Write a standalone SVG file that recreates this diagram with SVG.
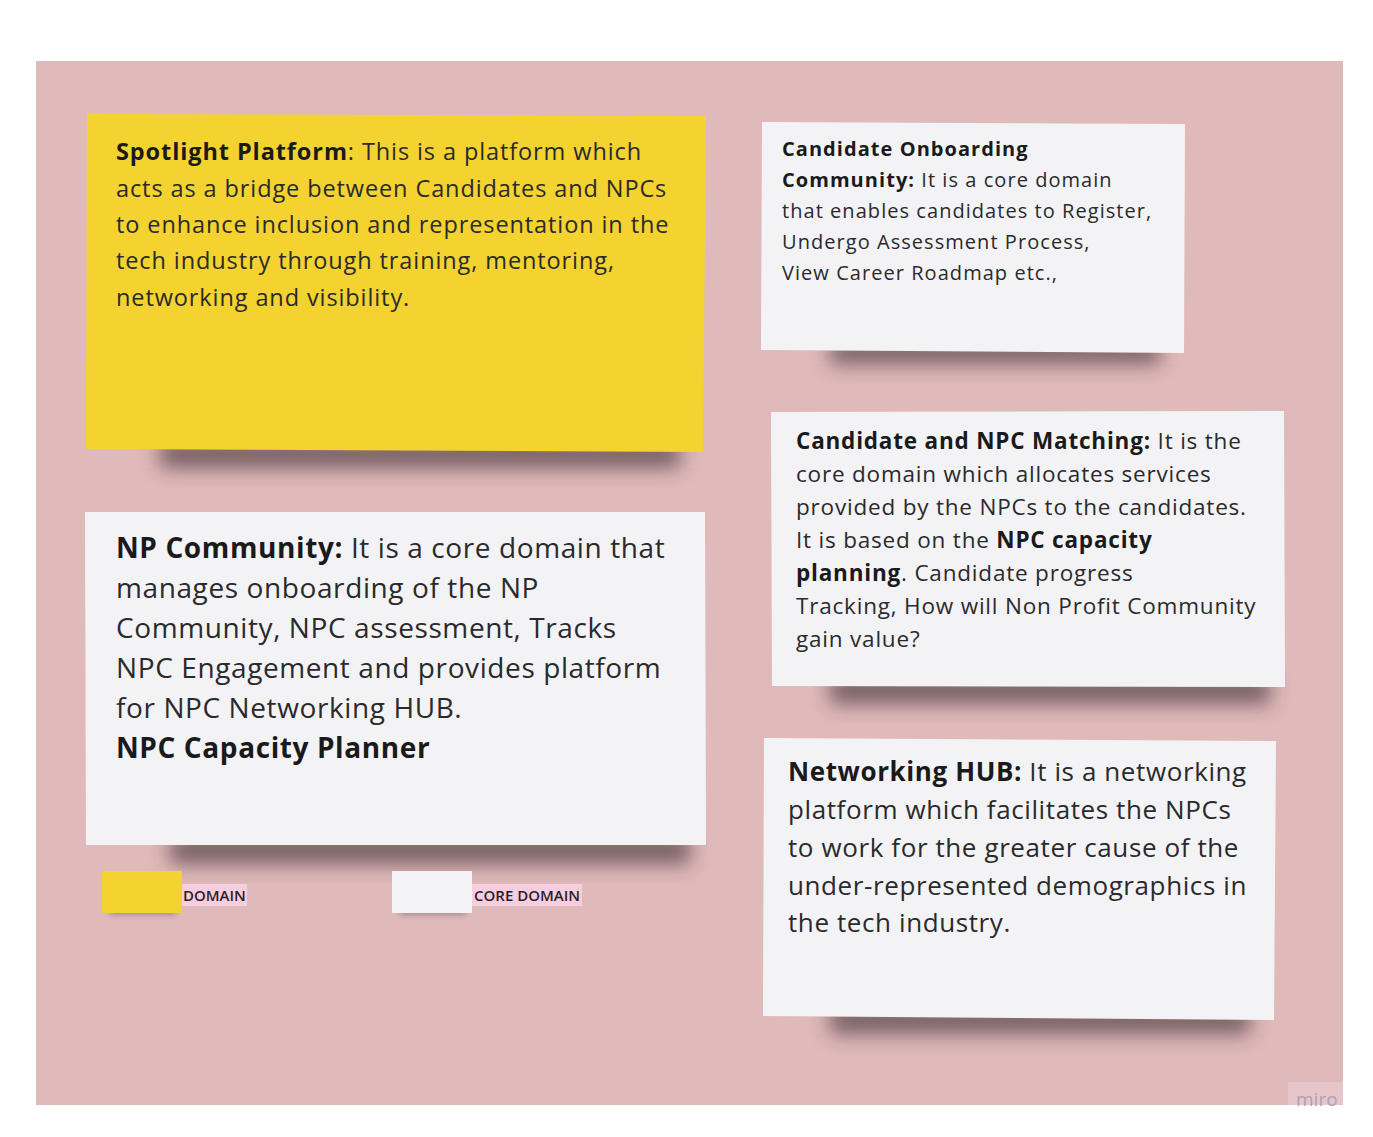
<svg xmlns="http://www.w3.org/2000/svg" width="1373" height="1137" viewBox="0 0 1373 1137">
<defs>
<style>
text{font-family:"Open Sans","Noto Sans","Liberation Sans",sans-serif;fill:#2a2a2c}
.b{font-weight:700;fill:#1a1a1c}
.white{fill:#f3f3f5}
.yellow{fill:#f4d22f}
.sh{fill:#3e2e30;opacity:0.65;filter:url(#blur)}
.lbl{font-size:15px;font-weight:600;fill:#2a1f25}
</style>
<filter id="blur" x="-20%" y="-200%" width="140%" height="500%"><feGaussianBlur stdDeviation="10"/></filter>
<filter id="blurs" x="-20%" y="-200%" width="140%" height="500%"><feGaussianBlur stdDeviation="3"/></filter>
</defs>
<rect x="0" y="0" width="1373" height="1137" fill="#ffffff"/>
<rect x="36" y="61" width="1307" height="1044" fill="#e0b9ba"/>

<g id="spotlight">
<rect class="sh" x="160" y="440" width="520" height="28"/>
<polygon class="yellow" points="87,114 706,116 703,452 86,449"/>
<text font-size="23.5" letter-spacing="0.9"><tspan x="116" y="160"><tspan class="b">Spotlight Platform</tspan>: This is a platform which</tspan><tspan x="116" y="197">acts as a bridge between Candidates and NPCs</tspan><tspan x="116" y="233">to enhance inclusion and representation in the</tspan><tspan x="116" y="269">tech industry through training, mentoring,</tspan><tspan x="116" y="306">networking and visibility.</tspan></text>
</g>

<g id="candidate-onboarding">
<rect class="sh" x="830" y="340" width="330" height="24"/>
<polygon class="white" points="762,122 1185,124 1184,353 761,350"/>
<text font-size="20" letter-spacing="1.05"><tspan x="782" y="156" class="b">Candidate Onboarding</tspan><tspan x="782" y="187"><tspan class="b">Community:</tspan> It is a core domain</tspan><tspan x="782" y="218">that enables candidates to Register,</tspan><tspan x="782" y="249">Undergo Assessment Process,</tspan><tspan x="782" y="280">View Career Roadmap etc.,</tspan></text>
</g>

<g id="matching">
<rect class="sh" x="830" y="676" width="440" height="28"/>
<polygon class="white" points="771,412 1284,411 1285,687 772,686"/>
<text font-size="22.5" letter-spacing="0.8"><tspan x="796" y="449"><tspan class="b">Candidate and NPC Matching:</tspan> It is the</tspan><tspan x="796" y="482">core domain which allocates services</tspan><tspan x="796" y="515">provided by the NPCs to the candidates.</tspan><tspan x="796" y="548">It is based on the <tspan class="b">NPC capacity</tspan></tspan><tspan x="796" y="581"><tspan class="b">planning</tspan>. Candidate progress</tspan><tspan x="796" y="614">Tracking, How will Non Profit Community</tspan><tspan x="796" y="647">gain value?</tspan></text>
</g>

<g id="np-community">
<rect class="sh" x="170" y="836" width="520" height="28"/>
<polygon class="white" points="85,512 705,512 706,845 86,845"/>
<text font-size="28" letter-spacing="0.6"><tspan x="116" y="558"><tspan class="b">NP Community:</tspan> It is a core domain that</tspan><tspan x="116" y="598">manages onboarding of the NP</tspan><tspan x="116" y="638">Community, NPC assessment, Tracks</tspan><tspan x="116" y="678">NPC Engagement and provides platform</tspan><tspan x="116" y="718">for NPC Networking HUB.</tspan><tspan x="116" y="758" class="b">NPC Capacity Planner</tspan></text>
</g>

<g id="networking-hub">
<rect class="sh" x="830" y="1006" width="420" height="28"/>
<polygon class="white" points="764,738 1276,741 1274,1020 763,1016"/>
<text font-size="26" letter-spacing="0.6"><tspan x="788" y="781"><tspan class="b">Networking HUB:</tspan> It is a networking</tspan><tspan x="788" y="819">platform which facilitates the NPCs</tspan><tspan x="788" y="857">to work for the greater cause of the</tspan><tspan x="788" y="895">under-represented demographics in</tspan><tspan x="788" y="932">the tech industry.</tspan></text>
</g>

<g id="connectors"></g>

<g id="legend-domain">
<rect x="110" y="908" width="66" height="6" fill="#3e2e30" opacity="0.45" filter="url(#blurs)"/>
<rect class="yellow" x="102" y="871" width="80" height="42"/>
<rect x="182" y="884" width="65" height="22" fill="#f9cde0"/>
<text class="lbl" x="183" y="901">DOMAIN</text>
</g>
<g id="legend-core">
<rect x="400" y="908" width="66" height="6" fill="#3e2e30" opacity="0.45" filter="url(#blurs)"/>
<rect class="white" x="392" y="871" width="80" height="42"/>
<rect x="472" y="884" width="110" height="22" fill="#f9cde0"/>
<text class="lbl" x="474" y="901">CORE DOMAIN</text>
</g>

<g id="watermark">
<rect x="1288" y="1082" width="55" height="23" fill="#e6c6c8"/>
<text x="1296" y="1106" font-size="19" style="fill:#b0a0b2">miro</text>
</g>
</svg>
